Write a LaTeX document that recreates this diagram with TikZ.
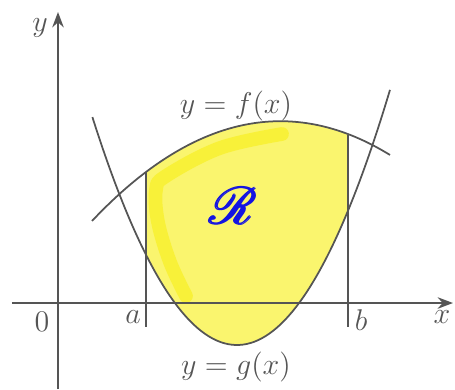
\documentclass[tikz,border=0pt]{standalone}
\usepackage{amssymb,amsmath}
\usepackage{mathrsfs}
\usepackage{tikz}
\usetikzlibrary{arrows.meta}
\definecolor{inkgray}{RGB}{85,85,85}
\definecolor{hiyellow}{RGB}{250,245,110}
\definecolor{histreak}{RGB}{248,240,40}
\definecolor{penblue}{RGB}{20,20,225}

\begin{document}
\begin{tikzpicture}[x=0.4pt, y=-0.4pt, >=Stealth, font=\large,
		curve/.style={draw=inkgray, line width=0.7pt},
		lbl/.style={text=inkgray, inner sep=1pt}]
		\useasboundingbox (0,0) rectangle (455,389);
		% axes
		\coordinate (O) at (58,303);
		\coordinate (xs) at (12,303);
		\coordinate (xe) at (453,303);
		\coordinate (ys) at (58,389);
		\coordinate (ye) at (58,12);
		% region R between a and b
		\fill[hiyellow] plot[domain=146:348, samples=60] (\x, {121.2+28.11*((\x-280.4)/100)^2})
			-- plot[domain=348:146, samples=60] (\x, {345-109*((\x-237)/100)^2}) -- cycle;
		% highlighter stroke
		\draw[histreak, line width=5.5pt, line cap=round, line join=round, opacity=0.75]
			plot[smooth, tension=0.6] coordinates {(186,296) (170,262) (158,222) (156,190) (166,176) (220,148) (282,134)};
		% axes on top
		\draw[curve, ->] (xs) -- (xe);
		\draw[curve, ->] (ys) -- (ye);
		% bounds x=a and x=b
		\coordinate (A1) at (146,172);
		\coordinate (A2) at (146,327);
		\coordinate (B1) at (348,135);
		\coordinate (B2) at (348,327);
		\draw[curve] (A1) -- (A2);
		\draw[curve] (B1) -- (B2);
		% the two curves
		\draw[curve] plot[domain=92:390, samples=80, smooth] (\x, {121.2+28.11*((\x-280.4)/100)^2});
		\draw[curve] plot[domain=92.4:390, samples=80, smooth] (\x, {345-109*((\x-237)/100)^2});
		% labels
		\node[lbl] (ylab) at (40,28) {$y$};
		\node[lbl] (xlab) at (442,317) {$x$};
		\node[lbl] (zero) at (42,322) {$0$};
		\node[lbl] (alab) at (133,317) {$a$};
		\node[lbl] (blab) at (361,320) {$b$};
		\node[lbl] (flab) at (236,106) {$y=f(x)$};
		\node[lbl] (glab) at (236,367) {$y=g(x)$};
		\node[text=penblue, font=\huge] (R) at (234,206) {$\pmb{\mathscr{R}}$};
	\end{tikzpicture}
\end{document}
